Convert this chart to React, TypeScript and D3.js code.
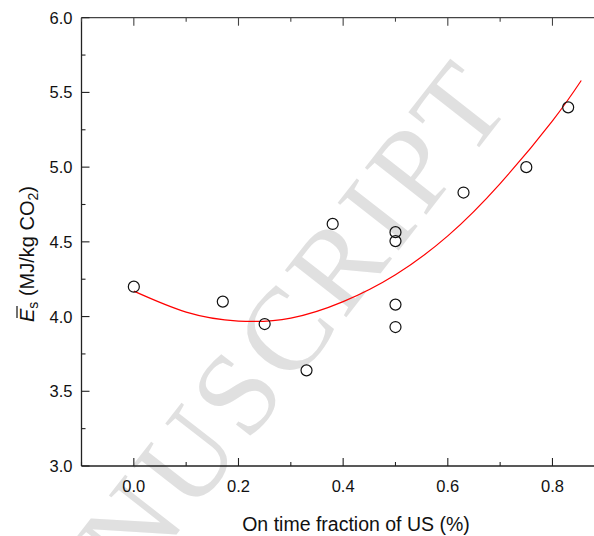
import React, { useEffect, useRef } from 'react';
import * as d3 from 'd3';

const width = 594;
const height = 536;

// measured points
const onTime = [0.0, 0.17, 0.25, 0.33, 0.38, 0.5, 0.5, 0.5, 0.5, 0.63, 0.75, 0.83];
const energy = [4.2, 4.1, 3.95, 3.64, 4.62, 4.565, 4.505, 4.08, 3.93, 4.83, 5.0, 5.4];

// fitted curve
const fitX = [0, 0.1, 0.2, 0.3, 0.4, 0.5, 0.6, 0.7, 0.8, 0.855];
const fitY = [4.17, 4.03, 3.97, 3.99, 4.1, 4.28, 4.54, 4.89, 5.31, 5.58];

const xTicks = [0, 0.2, 0.4, 0.6, 0.8];
const xMinor = [-0.1, 0.1, 0.3, 0.5, 0.7, 0.9];
const yTicks = [3.0, 3.5, 4.0, 4.5, 5.0, 5.5, 6.0];
const yMinor = [3.25, 3.75, 4.25, 4.75, 5.25, 5.75];

const App = () => {
  const ref = useRef<SVGSVGElement | null>(null);

  useEffect(() => {
    const svg = d3.select(ref.current);
    svg.selectAll('*').remove();

    const x = d3.scaleLinear().domain([-0.1, 0.9]).range([81.5, 604.8]);
    const y = d3.scaleLinear().domain([3, 6]).range([466, 17.7]);
    const font = 'Arial, "Liberation Sans", sans-serif';

    svg.append('rect').attr('width', width).attr('height', height).attr('fill', '#fff');

    // watermark
    svg.append('text')
      .attr('transform', 'translate(516,100) rotate(-52)')
      .attr('text-anchor', 'end')
      .attr('font-family', '"Liberation Serif", "Times New Roman", serif')
      .attr('font-size', 118)
      .attr('letter-spacing', 6)
      .attr('fill', '#e0e0e0')
      .text('MANUSCRIPT');

    const g = svg.append('g');

    // frame lines
    g.append('line').attr('x1', x(-0.1)).attr('x2', x(-0.1)).attr('y1', y(3)).attr('y2', y(6))
      .attr('stroke', '#222').attr('stroke-width', 1.3);
    g.append('line').attr('x1', x(-0.1)).attr('x2', x(0.9)).attr('y1', y(3)).attr('y2', y(3))
      .attr('stroke', '#222').attr('stroke-width', 1.3);
    g.append('line').attr('x1', x(-0.1)).attr('x2', x(0.9)).attr('y1', y(6)).attr('y2', y(6))
      .attr('stroke', '#444').attr('stroke-width', 1.3);

    const tk = (vals: number[], len: number) => {
      vals.forEach(v => {
        g.append('line').attr('x1', x(v)).attr('x2', x(v)).attr('y1', y(3)).attr('y2', y(3) - len)
          .attr('stroke', '#222').attr('stroke-width', 1.1);
        g.append('line').attr('x1', x(v)).attr('x2', x(v)).attr('y1', y(6)).attr('y2', y(6) + len)
          .attr('stroke', '#444').attr('stroke-width', 1.1);
      });
    };
    tk(xTicks, 8);
    tk(xMinor, 4);

    const ytk = (vals: number[], len: number) => {
      vals.forEach(v => {
        g.append('line').attr('x1', x(-0.1)).attr('x2', x(-0.1) + len).attr('y1', y(v)).attr('y2', y(v))
          .attr('stroke', '#222').attr('stroke-width', 1.1);
      });
    };
    ytk(yTicks, 8);
    ytk(yMinor, 4);

    g.selectAll('.xl').data(xTicks).enter().append('text')
      .attr('x', d => x(d)).attr('y', y(3) + 26)
      .attr('text-anchor', 'middle')
      .attr('font-family', font).attr('font-size', 16.5).attr('fill', '#111')
      .text(d => d3.format('.1f')(d));

    g.selectAll('.yl').data(yTicks).enter().append('text')
      .attr('x', x(-0.1) - 9).attr('y', d => y(d) + 6)
      .attr('text-anchor', 'end')
      .attr('font-family', font).attr('font-size', 16.5).attr('fill', '#111')
      .text(d => d3.format('.1f')(d));

    g.append('text')
      .attr('x', 356).attr('y', 531)
      .attr('text-anchor', 'middle')
      .attr('font-family', font).attr('font-size', 19.5).attr('fill', '#111')
      .text('On time fraction of US (%)');

    const yg = g.append('g').attr('transform', 'translate(34,322) rotate(-90)');
    const yl = yg.append('text')
      .attr('text-anchor', 'start')
      .attr('font-family', font).attr('font-size', 20).attr('fill', '#111');
    yl.append('tspan').attr('font-style', 'italic').text('E');
    yl.append('tspan').attr('font-size', 14).attr('dy', 4).text('s');
    yl.append('tspan').attr('dy', -4).text(' (MJ/kg CO');
    yl.append('tspan').attr('font-size', 14).attr('dy', 4).text('2');
    yl.append('tspan').attr('dy', -4).text(')');
    // overbar on E
    yg.append('line')
      .attr('x1', 4).attr('x2', 16).attr('y1', -17).attr('y2', -17)
      .attr('stroke', '#111').attr('stroke-width', 1.2);

    // fit curve
    const line = d3.line<number>()
      .x((_, i) => x(fitX[i]))
      .y(d => y(d))
      .curve(d3.curveNatural);
    g.append('path').attr('d', line(fitY) as string)
      .attr('fill', 'none').attr('stroke', '#ff0000').attr('stroke-width', 1.2);

    g.selectAll('.pt').data(energy).enter().append('circle')
      .attr('cx', (_, i) => x(onTime[i]))
      .attr('cy', d => y(d))
      .attr('r', 5.5)
      .attr('fill', 'none')
      .attr('stroke', '#111')
      .attr('stroke-width', 1.2);
  }, []);

  return (
    <svg ref={ref} width={width} height={height}
      style={{ position: 'absolute', left: 0, top: 0, background: '#fff' }} />
  );
};

export default App;
